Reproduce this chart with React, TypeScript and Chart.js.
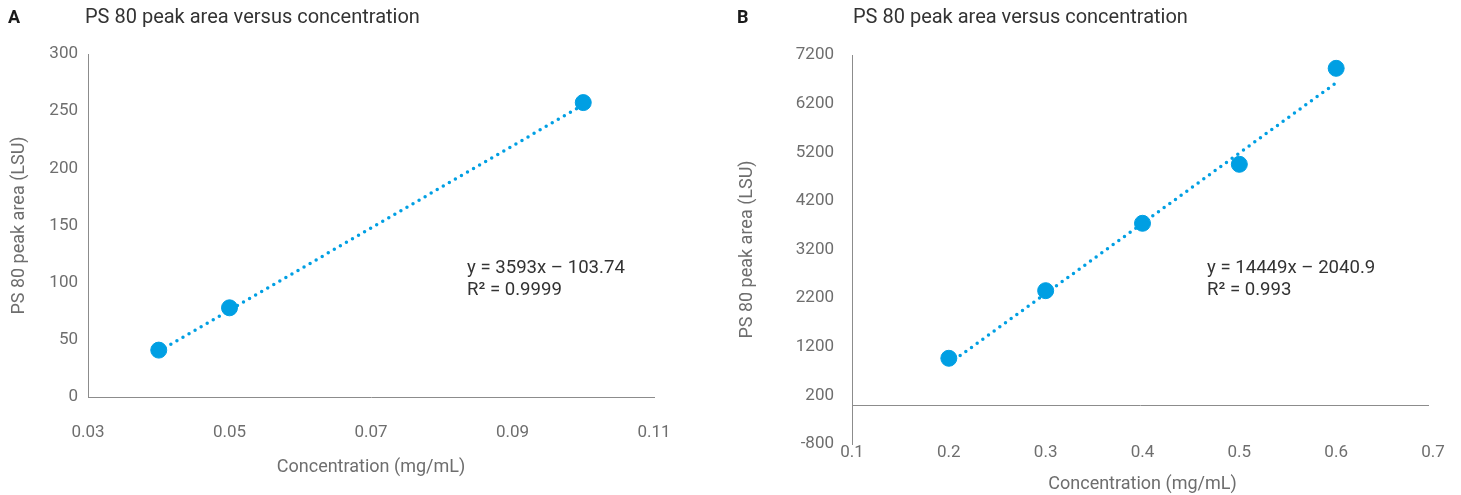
import React, { useEffect, useRef } from "react";
import { Chart, registerables } from "chart.js";

Chart.register(...registerables);

// ---------- Panel A data ----------
const concA = [0.04, 0.05, 0.1];
const areaA = [41, 78, 257.5];
const trendA = { slope: 3593, intercept: -103.74 };
const eqA = ["y = 3593x – 103.74", "R² = 0.9999"];
const xTicksA = [0.03, 0.05, 0.07, 0.09, 0.11];
const xLabelsA = ["0.03", "0.05", "0.07", "0.09", "0.11"];
const yTicksA = [0, 50, 100, 150, 200, 250, 300];
const yLabelsA = ["0", "50", "100", "150", "200", "250", "300"];

// ---------- Panel B data ----------
const concB = [0.2, 0.3, 0.4, 0.5, 0.6];
const areaB = [963, 2353, 3739, 4952, 6926];
const trendB = { slope: 14449, intercept: -2040.9 };
const eqB = ["y = 14449x – 2040.9", "R² = 0.993"];
const xTicksB = [0.1, 0.2, 0.3, 0.4, 0.5, 0.6, 0.7];
const xLabelsB = ["0.1", "0.2", "0.3", "0.4", "0.5", "0.6", "0.7"];
const yTicksB = [-800, 200, 1200, 2200, 3200, 4200, 5200, 6200, 7200];
const yLabelsB = ["-800", "200", "1200", "2200", "3200", "4200", "5200", "6200", "7200"];

const titleText = "PS 80 peak area versus concentration";
const xTitle = "Concentration (mg/mL)";
const yTitle = "PS 80 peak area (LSU)";

const BLUE = "#009fe3";
const AXIS = "#8c8c8c";
const TICK = "#6e6e6e";
const FONT = "Roboto";

const textPlugin = {
  id: "panelText",
  beforeDatasetsDraw(chart: any, _a: any, opts: any) {
    if (!opts.zeroLine) return;
    const ctx = chart.ctx;
    const y = Math.round(chart.scales.y.getPixelForValue(0)) + 0.5;
    ctx.save();
    ctx.strokeStyle = AXIS;
    ctx.lineWidth = 1;
    ctx.beginPath();
    ctx.moveTo(chart.chartArea.left, y);
    ctx.lineTo(chart.chartArea.right - opts.zeroLineInset, y);
    ctx.stroke();
    ctx.restore();
  },
  afterDraw(chart: any, _a: any, opts: any) {
    const ctx = chart.ctx;
    ctx.save();
    ctx.textBaseline = "middle";
    ctx.textAlign = "left";
    ctx.fillStyle = "#1a1a1a";
    ctx.font = `bold 18px ${FONT}`;
    ctx.fillText(opts.letter, opts.letterX, opts.titleY);
    ctx.fillStyle = "#333333";
    ctx.font = `20px ${FONT}`;
    ctx.fillText(opts.title, opts.titleX, opts.titleY);
    ctx.fillStyle = "#333333";
    ctx.font = `18.6px ${FONT}`;
    opts.eq.forEach((line: string, i: number) => {
      ctx.fillText(line, opts.eqX, opts.eqY + i * 22);
    });
    ctx.restore();
  },
};

type PanelCfg = {
  conc: number[];
  area: number[];
  trend: { slope: number; intercept: number };
  eq: string[];
  xTicks: number[];
  xLabels: string[];
  yTicks: number[];
  yLabels: string[];
  letter: string;
  letterX: number;
  titleX: number;
  eqX: number;
  yWidth: number;
  xHeight: number;
  padTop: number;
  padRight: number;
  yTickPad: number;
  yTitlePad: number;
  xTickPad: number;
  xTickLH: number;
  xTitlePad: number;
  xBorder: boolean;
  zeroLine: boolean;
};

function buildConfig(c: PanelCfg): any {
  const xMin = Math.min(...c.conc);
  const xMax = Math.max(...c.conc);
  const trendPts = [xMin, xMax].map((x) => ({ x, y: c.trend.slope * x + c.trend.intercept }));
  return {
    type: "scatter",
    data: {
      datasets: [
        {
          data: trendPts,
          showLine: true,
          borderColor: BLUE,
          borderWidth: 3.5,
          borderDash: [0, 7],
          borderCapStyle: "round",
          pointRadius: 0,
          pointHoverRadius: 0,
          order: 0,
        },
        {
          data: c.conc.map((x, i) => ({ x, y: c.area[i] })),
          backgroundColor: BLUE,
          borderColor: BLUE,
          pointRadius: 8,
          pointHoverRadius: 8,
          order: 1,
        },
      ],
    },
    options: {
      responsive: false,
      animation: false,
      devicePixelRatio: 1,
      layout: { padding: { top: c.padTop, right: c.padRight, left: 0, bottom: 0 } },
      plugins: {
        legend: { display: false },
        tooltip: { enabled: false },
        panelText: {
          letter: c.letter,
          letterX: c.letterX,
          title: titleText,
          titleX: c.titleX,
          titleY: 18,
          eq: c.eq,
          eqX: c.eqX,
          eqY: 268,
          zeroLine: c.zeroLine,
          zeroLineInset: 4,
        },
      },
      scales: {
        x: {
          type: "linear",
          position: "bottom",
          min: c.xTicks[0],
          max: c.xTicks[c.xTicks.length - 1],
          afterBuildTicks: (s: any) => {
            s.ticks = c.xTicks.map((v) => ({ value: v }));
          },
          afterFit: (s: any) => {
            s.height = c.xHeight;
          },
          grid: { display: false, drawTicks: false },
          border: { display: c.xBorder, color: AXIS, width: 1 },
          ticks: {
            color: TICK,
            padding: c.xTickPad,
            maxRotation: 0,
            autoSkip: false,
            font: { family: FONT, size: 17, lineHeight: c.xTickLH },
            callback: (_v: any, i: number) => c.xLabels[i],
          },
          title: {
            display: true,
            text: xTitle,
            color: TICK,
            font: { family: FONT, size: 18, lineHeight: 1.2 },
            padding: { top: 0, bottom: c.xTitlePad },
          },
        },
        y: {
          type: "linear",
          position: "left",
          min: c.yTicks[0],
          max: c.yTicks[c.yTicks.length - 1],
          afterBuildTicks: (s: any) => {
            s.ticks = c.yTicks.map((v) => ({ value: v }));
          },
          afterFit: (s: any) => {
            s.width = c.yWidth;
          },
          grid: { display: false, drawTicks: false },
          border: { display: true, color: AXIS, width: 1 },
          ticks: {
            color: TICK,
            padding: c.yTickPad,
            autoSkip: false,
            font: { family: FONT, size: 17 },
            callback: (_v: any, i: number) => c.yLabels[i],
          },
          title: {
            display: true,
            text: yTitle,
            color: TICK,
            font: { family: FONT, size: 18, lineHeight: 1.2 },
            padding: { top: c.yTitlePad, bottom: 0 },
          },
        },
      },
    },
    plugins: [textPlugin],
  };
}

const panelA: PanelCfg = {
  conc: concA,
  area: areaA,
  trend: trendA,
  eq: eqA,
  xTicks: xTicksA,
  xLabels: xLabelsA,
  yTicks: yTicksA,
  yLabels: yLabelsA,
  letter: "A",
  letterX: 8,
  titleX: 85,
  eqX: 467,
  yWidth: 88,
  xHeight: 98,
  padTop: 54,
  padRight: 76,
  yTickPad: 10,
  yTitlePad: 9,
  xTickPad: 26,
  xTickLH: 1.2,
  xTitlePad: 17,
  xBorder: true,
  zeroLine: false,
};

const panelB: PanelCfg = {
  conc: concB,
  area: areaB,
  trend: trendB,
  eq: eqB,
  xTicks: xTicksB,
  xLabels: xLabelsB,
  yTicks: yTicksB,
  yLabels: yLabelsB,
  letter: "B",
  letterX: 7,
  titleX: 123,
  eqX: 477,
  yWidth: 122,
  xHeight: 51,
  padTop: 55,
  padRight: 28,
  yTickPad: 18,
  yTitlePad: 7,
  xTickPad: 0,
  xTickLH: 1.0,
  xTitlePad: 0,
  xBorder: false,
  zeroLine: true,
};

function Panel({ cfg, left, width }: { cfg: PanelCfg; left: number; width: number }) {
  const ref = useRef<HTMLCanvasElement | null>(null);
  useEffect(() => {
    if (!ref.current) return;
    const chart = new Chart(ref.current, buildConfig(cfg));
    return () => chart.destroy();
  }, [cfg]);
  return (
    <canvas
      ref={ref}
      width={width}
      height={495}
      style={{ position: "absolute", left, top: 0, width, height: 495 }}
    />
  );
}

export default function App() {
  return (
    <div
      style={{
        position: "absolute",
        left: 0,
        top: 0,
        width: 1461,
        height: 495,
        background: "#ffffff",
        overflow: "hidden",
      }}
    >
      <Panel cfg={panelA} left={0} width={730} />
      <Panel cfg={panelB} left={730} width={731} />
    </div>
  );
}
